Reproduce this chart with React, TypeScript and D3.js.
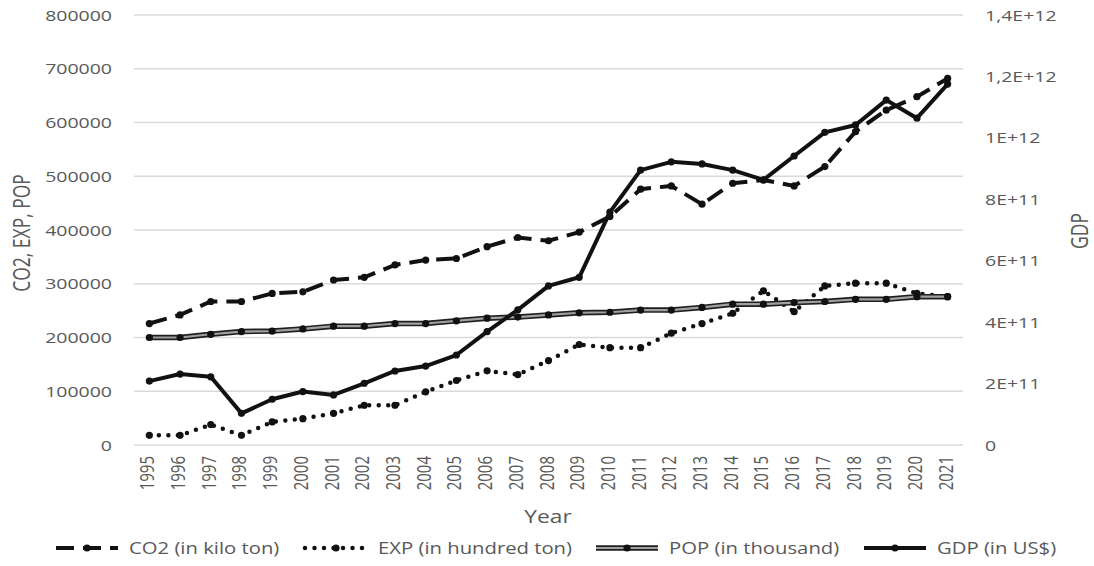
import { useMemo } from 'react';
import * as d3 from 'd3';

const WIDTH = 1094;
const HEIGHT = 566;
const PLOT = { left: 134, right: 963, top: 15, bottom: 445 };
const SX = 1.3; // the reference text is stretched horizontally
const FONT = '"Open Sans", "Liberation Sans", sans-serif';
const TEXT_COLOR = '#595959';

const years = [
  '1995', '1996', '1997', '1998', '1999', '2000', '2001', '2002', '2003',
  '2004', '2005', '2006', '2007', '2008', '2009', '2010', '2011', '2012',
  '2013', '2014', '2015', '2016', '2017', '2018', '2019', '2020', '2021',
];

// CO2 (in kilo ton)
const co2 = [
  226000, 242000, 267000, 267000, 282000, 285000, 307000, 312000, 335000,
  344000, 347000, 369000, 386000, 380000, 396000, 425000, 476000, 482000,
  448000, 487000, 493000, 482000, 518000, 583000, 623000, 648000, 682000,
];

// EXP (in hundred ton)
const exp = [
  18000, 18000, 38000, 18000, 43000, 49000, 59000, 74000, 74000,
  99000, 120000, 138000, 131000, 157000, 187000, 181000, 181000, 208000,
  226000, 245000, 287000, 248000, 296000, 301000, 301000, 282000, 276000,
];

// POP (in thousand)
const pop = [
  200000, 200000, 206000, 211000, 212000, 216000, 221000, 221000, 226000,
  226000, 231000, 236000, 238000, 242000, 246000, 247000, 251000, 251000,
  256000, 262000, 262000, 265000, 267000, 271000, 271000, 276000, 276000,
];

// GDP (in US$), secondary axis
const gdp = [
  2.08e11, 2.31e11, 2.22e11, 1.03e11, 1.49e11, 1.74e11, 1.63e11, 2.01e11, 2.41e11,
  2.57e11, 2.93e11, 3.69e11, 4.4e11, 5.18e11, 5.46e11, 7.58e11, 8.95e11, 9.22e11,
  9.15e11, 8.95e11, 8.63e11, 9.41e11, 1.018e12, 1.042e12, 1.123e12, 1.064e12, 1.175e12,
];

const leftTicks = [0, 100000, 200000, 300000, 400000, 500000, 600000, 700000, 800000];
const rightTicks = [0, 2e11, 4e11, 6e11, 8e11, 1e12, 1.2e12, 1.4e12];
const rightTickLabels = ['0', '2E+11', '4E+11', '6E+11', '8E+11', '1E+12', '1,2E+12', '1,4E+12'];

const legendLabels = ['CO2 (in kilo ton)', 'EXP (in hundred ton)', 'POP (in thousand)', 'GDP (in US$)'];

type Kind = 'dash' | 'dot' | 'double' | 'solid';
const kinds: Kind[] = ['dash', 'dot', 'double', 'solid'];

// legend layout (symbol start x)
const LEGEND_X = [56, 305, 596, 864];
const LEGEND_Y = 548;
const SYMBOL_W = 62;

function T({
  x, y, size, anchor = 'start', rotate, children, weight,
}: {
  x: number; y: number; size: number; anchor?: string; rotate?: number;
  children: React.ReactNode; weight?: number;
}) {
  return (
    <text
      transform={`translate(${x},${y}) scale(${SX},1)${rotate ? ` rotate(${rotate})` : ''}`}
      textAnchor={anchor}
      fontSize={size}
      fontFamily={FONT}
      fill={TEXT_COLOR}
      fontWeight={weight}
    >
      {children}
    </text>
  );
}

function SeriesPath({ d, kind }: { d: string; kind: Kind }) {
  if (kind === 'double') {
    return (
      <g>
        <path d={d} fill="none" stroke="#1f1f1f" strokeWidth={5.5} strokeLinejoin="round" />
        <path d={d} fill="none" stroke="#a0a0a0" strokeWidth={2.2} strokeLinejoin="round" />
      </g>
    );
  }
  if (kind === 'dash') {
    return <path d={d} fill="none" stroke="#111" strokeWidth={4} strokeDasharray="18 9" />;
  }
  if (kind === 'dot') {
    return (
      <path d={d} fill="none" stroke="#111" strokeWidth={4.5} strokeDasharray="0 9.5" strokeLinecap="round" />
    );
  }
  return <path d={d} fill="none" stroke="#111" strokeWidth={4} strokeLinejoin="round" />;
}

export default function App() {
  const { x, yL, yR, paths, points } = useMemo(() => {
    const x = d3.scaleBand<string>().domain(years).range([PLOT.left, PLOT.right]);
    const yL = d3.scaleLinear().domain([0, 800000]).range([PLOT.bottom, PLOT.top]);
    const yR = d3.scaleLinear().domain([0, 1.4e12]).range([PLOT.bottom, PLOT.top]);
    const cx = (yr: string) => (x(yr) ?? 0) + x.bandwidth() / 2;

    const lineL = d3.line<number>().x((_, i) => cx(years[i])).y((v) => yL(v));
    const lineR = d3.line<number>().x((_, i) => cx(years[i])).y((v) => yR(v));

    const series = [co2, exp, pop];
    const paths = [...series.map((s) => lineL(s) ?? ''), lineR(gdp) ?? ''];
    const points = [
      ...series.map((s) => s.map((v, i) => [cx(years[i]), yL(v)])),
      gdp.map((v, i) => [cx(years[i]), yR(v)]),
    ];
    return { x, yL, yR, paths, points };
  }, []);

  return (
    <svg
      width={WIDTH}
      height={HEIGHT}
      viewBox={`0 0 ${WIDTH} ${HEIGHT}`}
      style={{ position: 'absolute', left: 0, top: 0, background: '#fff' }}
    >
      <rect width={WIDTH} height={HEIGHT} fill="#fff" />

      {/* Gridlines (primary axis) */}
      {leftTicks.map((t) => (
        <line
          key={t}
          x1={PLOT.left}
          x2={PLOT.right}
          y1={yL(t)}
          y2={yL(t)}
          stroke="#d9d9d9"
          strokeWidth={1.5}
        />
      ))}

      {/* Left tick labels */}
      {leftTicks.map((t) => (
        <T key={t} x={112} y={yL(t) + 5.5} size={15} anchor="end">
          {String(t)}
        </T>
      ))}

      {/* Right tick labels */}
      {rightTicks.map((t, i) => (
        <T key={t} x={985} y={yR(t) + 5.5} size={15}>
          {rightTickLabels[i]}
        </T>
      ))}

      {/* Year labels */}
      {years.map((yr) => (
        <T key={yr} x={(x(yr) ?? 0) + x.bandwidth() / 2 + 5} y={456} size={15} anchor="end" rotate={-90}>
          {yr}
        </T>
      ))}

      {/* Axis titles */}
      <T x={548} y={523} size={17.5} anchor="middle">Year</T>
      <T x={30} y={233} size={17.5} anchor="middle" rotate={-90}>CO2, EXP, POP</T>
      <T x={1088} y={231} size={17.5} anchor="middle" rotate={-90}>GDP</T>

      {/* Series */}
      {paths.map((d, i) => (
        <g key={i}>
          <SeriesPath d={d} kind={kinds[i]} />
          {points[i].map(([px, py], j) => (
            <circle key={j} cx={px} cy={py} r={3.6} fill="#111" />
          ))}
        </g>
      ))}

      {/* Legend */}
      {legendLabels.map((label, i) => {
        const x0 = LEGEND_X[i];
        const d = `M${x0},${LEGEND_Y}L${x0 + SYMBOL_W},${LEGEND_Y}`;
        return (
          <g key={label}>
            <SeriesPath d={d} kind={kinds[i]} />
            <circle cx={x0 + SYMBOL_W / 2} cy={LEGEND_Y} r={3.6} fill="#111" />
            <T x={x0 + SYMBOL_W + 11} y={LEGEND_Y + 6} size={15.6}>
              {label}
            </T>
          </g>
        );
      })}
    </svg>
  );
}
